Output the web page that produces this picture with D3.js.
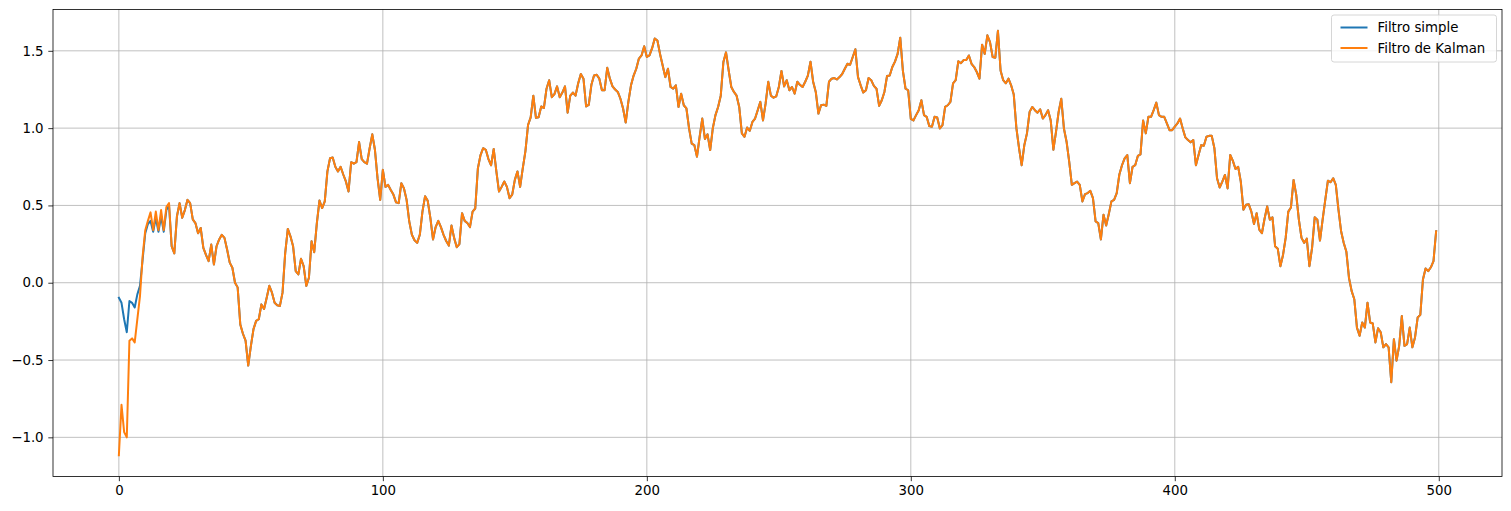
<!DOCTYPE html>
<html><head><meta charset="utf-8">
<script src="https://cdn.jsdelivr.net/npm/d3@7"></script>
<style>body{margin:0;background:#fff;} text{font-family:"DejaVu Sans",sans-serif;}</style>
</head><body>
<svg id="chart" width="1511" height="511"></svg>
<script>
const seriesNames = ["Filtro simple", "Filtro de Kalman"];
const seriesColors = ["#1f77b4", "#ff7f0e"];
const xTicks = [0, 100, 200, 300, 400, 500];
const yTicks = [-1.0, -0.5, 0.0, 0.5, 1.0, 1.5];

const simpleFilter = [
-0.097,-0.13,-0.236,-0.32,-0.118,-0.13,-0.16,-0.075,-0.02,0.15,
0.32,0.38,0.40,0.33,0.42,0.33,0.43,0.33,0.47,0.50,
0.236,0.19,0.43,0.515,0.42,0.47,0.536,0.515,0.41,0.386,
0.32,0.354,0.225,0.18,0.14,0.247,0.118,0.236,0.28,0.31,
0.29,0.215,0.13,0.097,0.0,-0.03,-0.27,-0.33,-0.375,-0.536,
-0.41,-0.30,-0.247,-0.236,-0.14,-0.17,-0.097,-0.02,-0.064,-0.13,
-0.146,-0.15,-0.064,0.19,0.348,0.30,0.236,0.075,0.054,0.155,
0.107,-0.02,0.032,0.268,0.197,0.386,0.532,0.483,0.526,0.72,
0.805,0.81,0.75,0.72,0.75,0.70,0.655,0.59,0.78,0.77,
0.78,0.91,0.80,0.78,0.77,0.87,0.96,0.86,0.675,0.536,
0.73,0.62,0.633,0.60,0.57,0.52,0.515,0.644,0.61,0.536,
0.397,0.31,0.275,0.258,0.31,0.46,0.56,0.53,0.42,0.28,
0.36,0.40,0.36,0.31,0.27,0.24,0.37,0.29,0.23,0.25,
0.45,0.40,0.386,0.36,0.46,0.48,0.74,0.826,0.87,0.86,
0.80,0.76,0.865,0.72,0.59,0.62,0.655,0.62,0.547,0.57,
0.665,0.72,0.62,0.74,0.85,1.02,1.07,1.21,1.067,1.07,
1.14,1.13,1.255,1.31,1.20,1.22,1.27,1.20,1.23,1.27,
1.10,1.21,1.23,1.21,1.29,1.35,1.32,1.14,1.15,1.28,
1.34,1.345,1.32,1.245,1.245,1.39,1.32,1.27,1.25,1.234,
1.19,1.127,1.036,1.17,1.277,1.34,1.384,1.45,1.47,1.53,
1.46,1.47,1.517,1.58,1.567,1.48,1.405,1.33,1.384,1.266,
1.255,1.277,1.137,1.223,1.148,1.127,0.998,0.90,0.89,0.815,
0.944,1.062,0.93,0.96,0.858,1.0,1.084,1.137,1.21,1.427,
1.49,1.373,1.266,1.234,1.21,1.137,0.966,0.944,1.004,0.983,
1.04,1.062,1.116,1.17,1.05,1.16,1.30,1.21,1.197,1.205,
1.266,1.37,1.27,1.31,1.245,1.266,1.223,1.30,1.28,1.266,
1.30,1.34,1.43,1.30,1.234,1.094,1.148,1.152,1.144,1.30,
1.32,1.324,1.315,1.33,1.35,1.384,1.416,1.41,1.46,1.51,
1.33,1.277,1.23,1.245,1.324,1.31,1.273,1.255,1.144,1.18,
1.234,1.337,1.34,1.395,1.43,1.48,1.585,1.37,1.255,1.245,
1.06,1.05,1.084,1.116,1.18,1.084,1.073,1.013,1.009,1.073,
1.069,0.998,1.02,1.137,1.148,1.17,1.29,1.31,1.433,1.42,
1.44,1.44,1.47,1.416,1.395,1.363,1.32,1.54,1.48,1.60,
1.556,1.46,1.455,1.63,1.373,1.31,1.29,1.32,1.277,1.217,
1.0,0.87,0.76,0.89,0.966,1.105,1.137,1.116,1.10,1.122,
1.062,1.084,1.116,1.05,0.86,0.976,1.105,1.19,0.998,0.912,
0.783,0.633,0.644,0.654,0.633,0.526,0.573,0.58,0.594,0.547,
0.397,0.386,0.28,0.44,0.37,0.444,0.526,0.536,0.58,0.70,
0.76,0.805,0.826,0.644,0.75,0.76,0.82,0.83,1.05,0.966,
1.073,1.073,1.116,1.165,1.084,1.073,1.073,1.03,0.987,0.987,
1.009,1.03,1.062,0.998,0.94,0.923,0.908,0.923,0.76,0.826,
0.89,0.886,0.944,0.95,0.95,0.87,0.676,0.616,0.654,0.697,
0.61,0.826,0.788,0.736,0.75,0.654,0.472,0.504,0.508,0.46,
0.38,0.45,0.343,0.32,0.414,0.494,0.408,0.423,0.236,0.22,
0.107,0.18,0.29,0.46,0.487,0.665,0.57,0.408,0.29,0.258,
0.285,0.107,0.225,0.423,0.408,0.273,0.408,0.536,0.66,0.65,
0.676,0.633,0.472,0.333,0.257,0.20,0.03,-0.054,-0.107,-0.29,
-0.343,-0.257,-0.29,-0.129,-0.257,-0.264,-0.386,-0.294,-0.32,-0.418,
-0.397,-0.418,-0.644,-0.365,-0.504,-0.408,-0.215,-0.408,-0.397,-0.29,
-0.418,-0.354,-0.225,-0.208,0.021,0.092,0.075,0.10,0.14,0.333
];

const kalmanFilter = [
-1.116,-0.79,-0.966,-1.0,-0.375,-0.36,-0.386,-0.236,-0.086,0.17,
0.34,0.40,0.455,0.34,0.46,0.34,0.47,0.34,0.49,0.515,
0.236,0.19,0.43,0.515,0.42,0.47,0.536,0.515,0.41,0.386,
0.32,0.354,0.225,0.18,0.14,0.247,0.118,0.236,0.28,0.31,
0.29,0.215,0.13,0.097,0.0,-0.03,-0.27,-0.33,-0.375,-0.536,
-0.41,-0.30,-0.247,-0.236,-0.14,-0.17,-0.097,-0.02,-0.064,-0.13,
-0.146,-0.15,-0.064,0.19,0.348,0.30,0.236,0.075,0.054,0.155,
0.107,-0.02,0.032,0.268,0.197,0.386,0.532,0.483,0.526,0.72,
0.805,0.81,0.75,0.72,0.75,0.70,0.655,0.59,0.78,0.77,
0.78,0.91,0.80,0.78,0.77,0.87,0.96,0.86,0.675,0.536,
0.73,0.62,0.633,0.60,0.57,0.52,0.515,0.644,0.61,0.536,
0.397,0.31,0.275,0.258,0.31,0.46,0.56,0.53,0.42,0.28,
0.36,0.40,0.36,0.31,0.27,0.24,0.37,0.29,0.23,0.25,
0.45,0.40,0.386,0.36,0.46,0.48,0.74,0.826,0.87,0.86,
0.80,0.76,0.865,0.72,0.59,0.62,0.655,0.62,0.547,0.57,
0.665,0.72,0.62,0.74,0.85,1.02,1.07,1.21,1.067,1.07,
1.14,1.13,1.255,1.31,1.20,1.22,1.27,1.20,1.23,1.27,
1.10,1.21,1.23,1.21,1.29,1.35,1.32,1.14,1.15,1.28,
1.34,1.345,1.32,1.245,1.245,1.39,1.32,1.27,1.25,1.234,
1.19,1.127,1.036,1.17,1.277,1.34,1.384,1.45,1.47,1.53,
1.46,1.47,1.517,1.58,1.567,1.48,1.405,1.33,1.384,1.266,
1.255,1.277,1.137,1.223,1.148,1.127,0.998,0.90,0.89,0.815,
0.944,1.062,0.93,0.96,0.858,1.0,1.084,1.137,1.21,1.427,
1.49,1.373,1.266,1.234,1.21,1.137,0.966,0.944,1.004,0.983,
1.04,1.062,1.116,1.17,1.05,1.16,1.30,1.21,1.197,1.205,
1.266,1.37,1.27,1.31,1.245,1.266,1.223,1.30,1.28,1.266,
1.30,1.34,1.43,1.30,1.234,1.094,1.148,1.152,1.144,1.30,
1.32,1.324,1.315,1.33,1.35,1.384,1.416,1.41,1.46,1.51,
1.33,1.277,1.23,1.245,1.324,1.31,1.273,1.255,1.144,1.18,
1.234,1.337,1.34,1.395,1.43,1.48,1.585,1.37,1.255,1.245,
1.06,1.05,1.084,1.116,1.18,1.084,1.073,1.013,1.009,1.073,
1.069,0.998,1.02,1.137,1.148,1.17,1.29,1.31,1.433,1.42,
1.44,1.44,1.47,1.416,1.395,1.363,1.32,1.54,1.48,1.60,
1.556,1.46,1.455,1.63,1.373,1.31,1.29,1.32,1.277,1.217,
1.0,0.87,0.76,0.89,0.966,1.105,1.137,1.116,1.10,1.122,
1.062,1.084,1.116,1.05,0.86,0.976,1.105,1.19,0.998,0.912,
0.783,0.633,0.644,0.654,0.633,0.526,0.573,0.58,0.594,0.547,
0.397,0.386,0.28,0.44,0.37,0.444,0.526,0.536,0.58,0.70,
0.76,0.805,0.826,0.644,0.75,0.76,0.82,0.83,1.05,0.966,
1.073,1.073,1.116,1.165,1.084,1.073,1.073,1.03,0.987,0.987,
1.009,1.03,1.062,0.998,0.94,0.923,0.908,0.923,0.76,0.826,
0.89,0.886,0.944,0.95,0.95,0.87,0.676,0.616,0.654,0.697,
0.61,0.826,0.788,0.736,0.75,0.654,0.472,0.504,0.508,0.46,
0.38,0.45,0.343,0.32,0.414,0.494,0.408,0.423,0.236,0.22,
0.107,0.18,0.29,0.46,0.487,0.665,0.57,0.408,0.29,0.258,
0.285,0.107,0.225,0.423,0.408,0.273,0.408,0.536,0.66,0.65,
0.676,0.633,0.472,0.333,0.257,0.20,0.03,-0.054,-0.107,-0.29,
-0.343,-0.257,-0.29,-0.129,-0.257,-0.264,-0.386,-0.294,-0.32,-0.418,
-0.397,-0.418,-0.644,-0.365,-0.504,-0.408,-0.215,-0.408,-0.397,-0.29,
-0.418,-0.354,-0.225,-0.208,0.021,0.092,0.075,0.10,0.14,0.333
];

const allSeries = [simpleFilter, kalmanFilter];

const svg = d3.select("#chart");
const margin = {left: 53, top: 9.5, right: 9, bottom: 34.5};
const W = 1511, H = 511;
const pw = W - margin.left - margin.right;
const ph = H - margin.top - margin.bottom;

const n = simpleFilter.length;
const xMin = 0, xMax = n - 1;
const xPad = (xMax - xMin) * 0.05;
const allVals = allSeries.flat();
const yMin = d3.min(allVals), yMax = d3.max(allVals);
const yPad = (yMax - yMin) * 0.05;

const x = d3.scaleLinear().domain([xMin - xPad, xMax + xPad]).range([0, pw]);
const y = d3.scaleLinear().domain([yMin - yPad, yMax + yPad]).range([ph, 0]);

const g = svg.append("g").attr("transform", `translate(${margin.left},${margin.top})`);

// grid
g.append("g").selectAll("line").data(xTicks).join("line")
  .attr("x1", d => x(d)).attr("x2", d => x(d)).attr("y1", 0).attr("y2", ph)
  .attr("stroke", "#b0b0b0").attr("stroke-width", 0.8);
g.append("g").selectAll("line").data(yTicks).join("line")
  .attr("y1", d => y(d)).attr("y2", d => y(d)).attr("x1", 0).attr("x2", pw)
  .attr("stroke", "#b0b0b0").attr("stroke-width", 0.8);

// lines
const clip = svg.append("defs").append("clipPath").attr("id", "clip")
  .append("rect").attr("width", pw).attr("height", ph);
const line = d3.line().x((d, i) => x(i)).y(d => y(d));
const lg = g.append("g").attr("clip-path", "url(#clip)");
allSeries.forEach((s, k) => {
  lg.append("path").datum(s).attr("d", line)
    .attr("fill", "none").attr("stroke", seriesColors[k])
    .attr("stroke-width", 2).attr("stroke-linejoin", "round").attr("stroke-linecap", "square");
});

// axes
const fmtY = d => d3.format(".1f")(d).replace("-", "\u2212");
const xAxis = d3.axisBottom(x).tickValues(xTicks).tickSize(4.7).tickPadding(4.7).tickFormat(d3.format("d"));
const yAxis = d3.axisLeft(y).tickValues(yTicks).tickSize(4.7).tickPadding(4.7).tickFormat(fmtY);
const gx = g.append("g").attr("transform", `translate(0,${ph})`).call(xAxis);
const gy = g.append("g").call(yAxis);
[gx, gy].forEach(a => {
  a.select(".domain").remove();
  a.selectAll(".tick line").attr("stroke", "#000").attr("stroke-width", 0.8);
  a.selectAll(".tick text").attr("font-size", "13.33px").attr("fill", "#000")
    .attr("font-family", "DejaVu Sans, sans-serif");
});

// frame
g.append("rect").attr("width", pw).attr("height", ph)
  .attr("fill", "none").attr("stroke", "#000").attr("stroke-width", 0.8);

// legend
const legW = 165, legH = 47;
const lgX = pw - legW - 5.5, lgY = 5.5;
const leg = g.append("g").attr("transform", `translate(${lgX},${lgY})`);
leg.append("rect").attr("width", legW).attr("height", legH).attr("rx", 2.5)
  .attr("fill", "#fff").attr("fill-opacity", 0.8).attr("stroke", "#cccccc").attr("stroke-width", 0.8);
seriesNames.forEach((name, k) => {
  const yy = 12.5 + k * 20.5;
  leg.append("line").attr("x1", 9).attr("x2", 36).attr("y1", yy).attr("y2", yy)
    .attr("stroke", seriesColors[k]).attr("stroke-width", 2);
  leg.append("text").attr("x", 46).attr("y", yy).attr("dy", "0.35em")
    .attr("font-size", "13.33px").attr("fill", "#000").text(name);
});
</script>
</body></html>
